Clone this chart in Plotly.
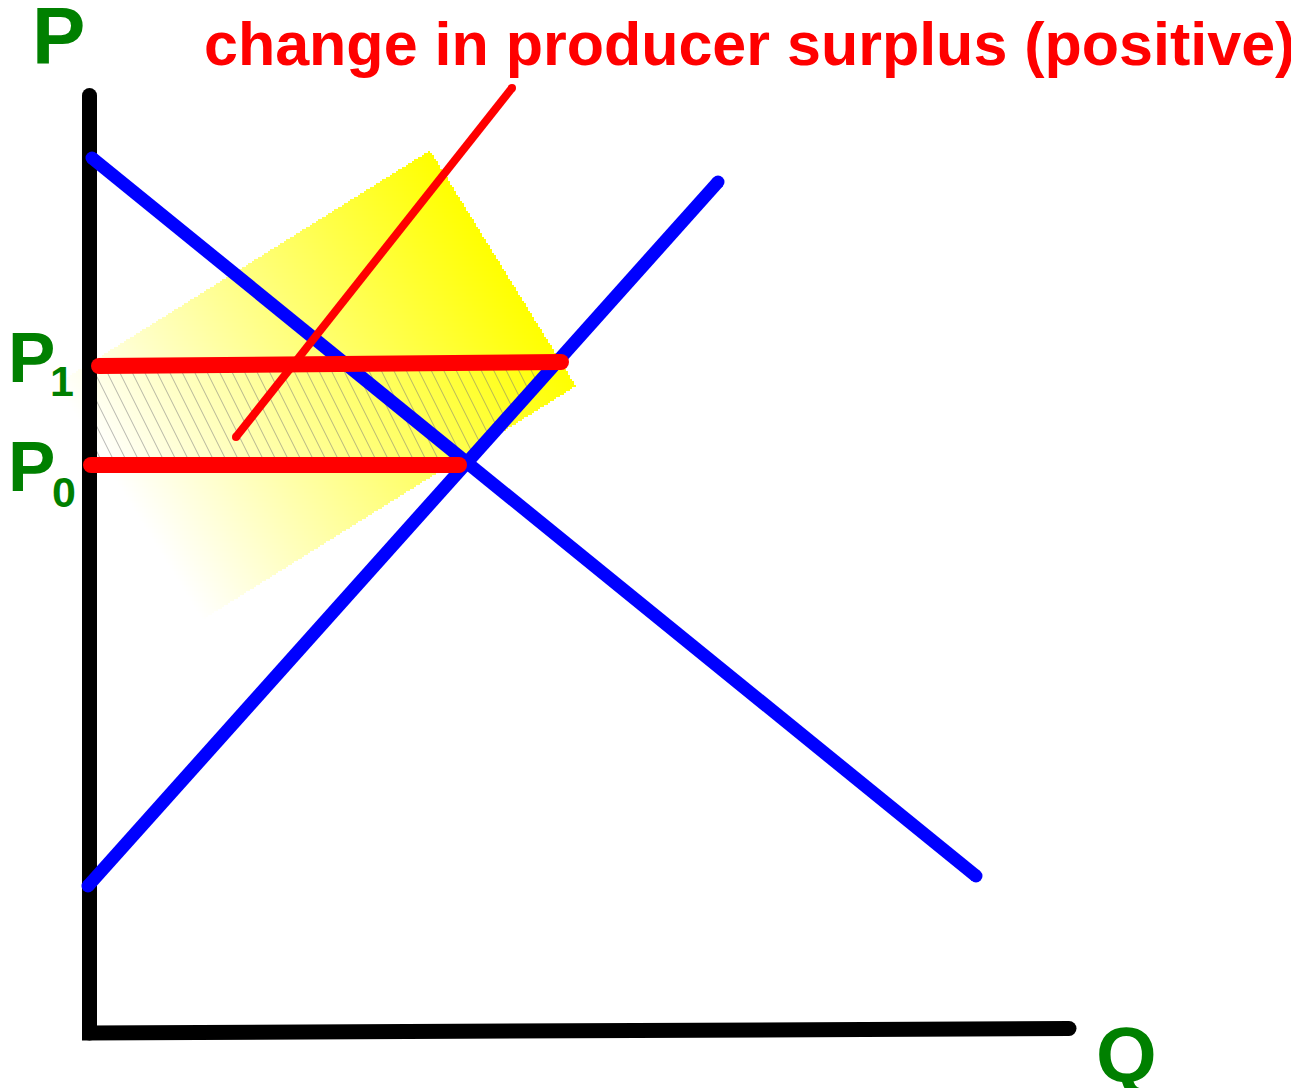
import numpy as np
import plotly.graph_objects as go

# ---- diagram data, in chart units (Q across, P up) ----
axis_q = [-0.015, -0.015, 9.78]
axis_p = [9.315, -0.06, -0.015]

demand_q = [0.01, 8.85]
demand_p = [8.69, 1.51]

supply_q = [-0.03, 6.27]
supply_p = [1.41, 8.45]

p1_q = [0.08, 4.70]
p1_p = [6.61, 6.65]

p0_q = [0.0, 3.68]
p0_p = [5.62, 5.62]

pointer_q = [1.45, 4.21]
pointer_p = [5.90, 9.39]

# highlight rectangle corners: top, right, bottom, left
glow_q = [3.39, 4.86, 1.11, -0.36]
glow_p = [8.74, 6.39, 4.07, 6.42]

title_text = "change in producer surplus (positive)"
p_label, q_label = "P", "Q"
price_labels = ["P", "P"]
price_subs = ["1", "0"]

FONT = "Liberation Sans, Arial, sans-serif"
GREEN = "#008000"
RED = "#FF0000"
BLUE = "#0000FF"

fig = go.Figure()

# ---- gradient highlight (heatmap masked to the rotated rectangle) ----
A = np.array([glow_q[0], glow_p[0]])
R = np.array([glow_q[1], glow_p[1]])
B = np.array([glow_q[2], glow_p[2]])
L = np.array([glow_q[3], glow_p[3]])
step = 0.02
qs = np.arange(min(glow_q), max(glow_q) + step, step)
ps = np.arange(min(glow_p), max(glow_p) + step, step)
QQ, PP = np.meshgrid(qs, ps)
dq, dp = QQ - B[0], PP - B[1]
u = R - B
v = L - B
t = (dq * u[0] + dp * u[1]) / (u @ u)
s = (dq * v[0] + dp * v[1]) / (v @ v)
inside = (t >= 0) & (t <= 1) & (s >= 0) & (s <= 1)
z = [[(round(float(t[i, j]), 3) if inside[i, j] else None) for j in range(len(qs))]
     for i in range(len(ps))]
fig.add_trace(go.Heatmap(
    x=qs.round(3).tolist(), y=ps.round(3).tolist(), z=z,
    colorscale=[[0, "#FFFFFF"], [1, "#FFFF00"]], zmin=0, zmax=1,
    showscale=False, hoverinfo="skip", zsmooth=False,
))

# ---- hatched producer-surplus change (thin diagonal lines clipped to the band) ----
P1 = float(np.mean(p1_p))
P0 = p0_p[0]
slant = 0.5      # Q shift per unit of P drop
gap = 0.125      # horizontal spacing of hatch lines
pgrid = np.linspace(P0, P1, 400)
supply_at = np.interp(pgrid, supply_p, supply_q)
hx, hy = [], []
for c in np.arange(-slant * (P1 - P0), 5.0, gap):
    qline = c + slant * (P1 - pgrid)
    ok = (qline >= 0) & (qline <= supply_at)
    if ok.sum() < 2:
        continue
    idx = np.where(ok)[0]
    i0, i1 = idx[0], idx[-1]
    hx += [float(qline[i0]), float(qline[i1]), None]
    hy += [float(pgrid[i0]), float(pgrid[i1]), None]
fig.add_trace(go.Scatter(
    x=hx, y=hy, mode="lines",
    line=dict(color="rgba(120,120,120,0.55)", width=1),
    hoverinfo="skip",
))


def seg(xs, ys, color, width):
    fig.add_trace(go.Scatter(
        x=xs, y=ys, mode="lines+markers",
        line=dict(color=color, width=width),
        marker=dict(color=color, size=width, line=dict(width=0)),
        hoverinfo="skip",
    ))


seg(axis_q, axis_p, "#000000", 15)
seg(demand_q, demand_p, BLUE, 13)
seg(supply_q, supply_p, BLUE, 13)
seg(p1_q, p1_p, RED, 16)
seg(p0_q, p0_p, RED, 16)
seg(pointer_q, pointer_p, RED, 8)

ann = []


def label(x, y, text, size, color):
    ann.append(dict(x=x, y=y, xref="x", yref="y", text=text, showarrow=False,
                    xanchor="center", yanchor="middle", borderpad=0,
                    font=dict(family=FONT, size=size, color=color, weight="bold")))


label(6.58, 9.83, title_text, 61, RED)
label(-0.325, 9.92, p_label, 80, GREEN)
label(10.355, -0.275, q_label, 78, GREEN)
label(-0.595, 6.695, price_labels[0], 71, GREEN)
label(-0.295, 6.46, price_subs[0], 43, GREEN)
label(-0.595, 5.605, price_labels[1], 71, GREEN)
label(-0.275, 5.35, price_subs[1], 43, GREEN)

fig.update_layout(
    width=1291, height=1080, autosize=False,
    margin=dict(l=0, r=0, t=0, b=0),
    paper_bgcolor="white", plot_bgcolor="white",
    showlegend=False, hovermode=False,
    annotations=ann,
    xaxis=dict(range=[-0.83, 12.08], visible=False, fixedrange=True),
    yaxis=dict(range=[-0.61, 10.19], visible=False, fixedrange=True),
)

fig.write_html("out.html")
